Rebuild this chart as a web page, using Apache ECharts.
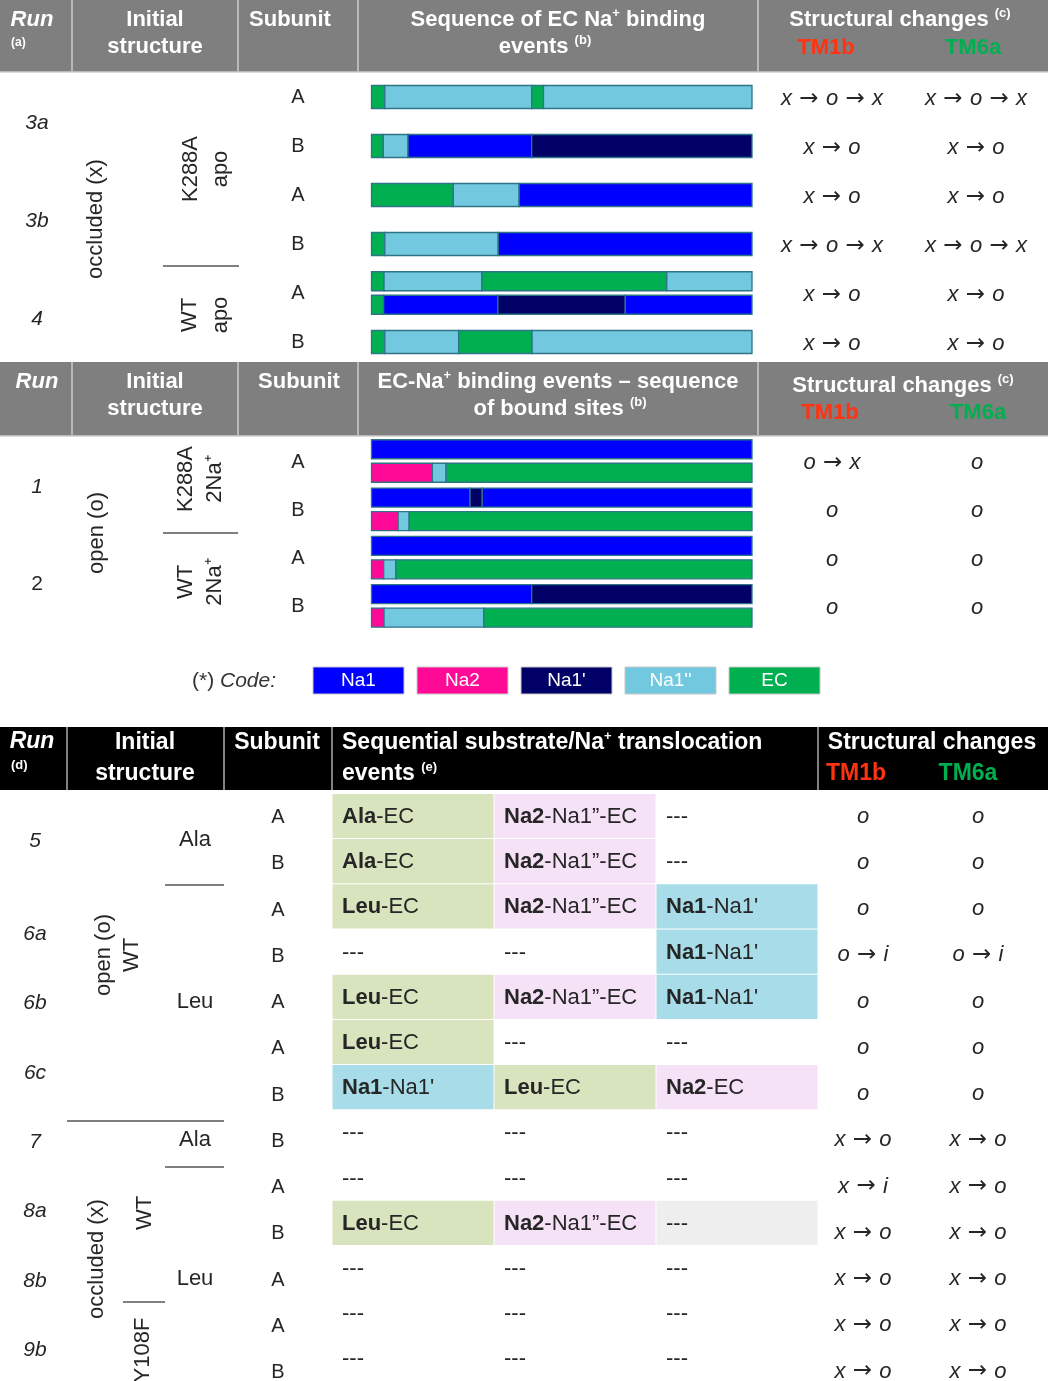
<!DOCTYPE html>
<html>
<head>
<meta charset="utf-8">
<title>Na+ binding and translocation events</title>
<script src="https://cdn.jsdelivr.net/npm/echarts@6.0.0/dist/echarts.min.js"></script>
<style>
html,body{margin:0;padding:0;background:#ffffff;}
#chart{width:1050px;height:1381px;}
</style>
</head>
<body>
<div id="chart"></div>
<script>
// ================= DATA =================
const siteCodes = ['Na1', 'Na2', "Na1'", "Na1''", 'EC'];
const legendLabels = ['Na1', 'Na2', "Na1'", "Na1''", 'EC'];

// ---- Part 1: sequence of EC Na+ binding events (apo runs)
const ecRuns = ['3a', '3b', '4'];
const ecRunRows = [[0, 1], [2, 3], [4, 5]];
const ecSubunits = ['A', 'B', 'A', 'B', 'A', 'B'];
const ecTM1b = ['x \u2192 o \u2192 x', 'x \u2192 o', 'x \u2192 o', 'x \u2192 o \u2192 x', 'x \u2192 o', 'x \u2192 o'];
const ecTM6a = ['x \u2192 o \u2192 x', 'x \u2192 o', 'x \u2192 o', 'x \u2192 o \u2192 x', 'x \u2192 o', 'x \u2192 o'];
const ecBarRow = [0, 1, 2, 3, 4, 4, 5];
const ecBarTrack = [0, 0, 0, 0, -1, 1, 0];
const ecBarSites = [
  ['EC', "Na1''", 'EC', "Na1''"],
  ['EC', "Na1''", 'Na1', "Na1'"],
  ['EC', "Na1''", 'Na1'],
  ['EC', "Na1''", 'Na1'],
  ['EC', "Na1''", 'EC', "Na1''"],
  ['EC', 'Na1', "Na1'", 'Na1'],
  ['EC', "Na1''", 'EC', "Na1''"]
];
const ecBarEnds = [
  [3.5, 42.1, 45.2, 100],
  [3.1, 9.6, 42.1, 100],
  [21.5, 38.8, 100],
  [3.5, 33.3, 100],
  [3.3, 29.0, 77.6, 100],
  [3.2, 33.2, 66.7, 100],
  [3.5, 22.9, 42.2, 100]
];

// ---- Part 2: EC-Na+ binding events, sequence of bound sites (2Na+ runs)
const bsRuns = ['1', '2'];
const bsRunRows = [[0, 1], [2, 3]];
const bsSubunits = ['A', 'B', 'A', 'B'];
const bsTM1b = ['o \u2192 x', 'o', 'o', 'o'];
const bsTM6a = ['o', 'o', 'o', 'o'];
const bsBarRow = [0, 0, 1, 1, 2, 2, 3, 3];
const bsBarTrack = [-1, 1, -1, 1, -1, 1, -1, 1];
const bsBarSites = [
  ['Na1'],
  ['Na2', "Na1''", 'EC'],
  ['Na1', "Na1'", 'Na1'],
  ['Na2', "Na1''", 'EC'],
  ['Na1'],
  ['Na2', "Na1''", 'EC'],
  ['Na1', "Na1'"],
  ['Na2', "Na1''", 'EC']
];
const bsBarEnds = [
  [100],
  [16.0, 19.6, 100],
  [25.9, 29.1, 100],
  [7.0, 9.9, 100],
  [100],
  [3.2, 6.4, 100],
  [42.1, 100],
  [3.3, 29.5, 100]
];

// ---- Part 3: sequential substrate/Na+ translocation events
const trRuns = ['5', '6a', '6b', '6c', '7', '8a', '8b', '9b'];
const trRunRows = [[0, 1], [2, 3], [4], [5, 6], [7], [8, 9], [10], [11, 12]];
const trSubunits = ['A', 'B', 'A', 'B', 'A', 'A', 'B', 'B', 'A', 'B', 'A', 'A', 'B'];
const trEvent1 = ['Ala-EC', 'Ala-EC', 'Leu-EC', '---', 'Leu-EC', 'Leu-EC', "Na1-Na1'", '---', '---', 'Leu-EC', '---', '---', '---'];
const trEvent2 = ['Na2-Na1\u201D-EC', 'Na2-Na1\u201D-EC', 'Na2-Na1\u201D-EC', '---', 'Na2-Na1\u201D-EC', '---', 'Leu-EC', '---', '---', 'Na2-Na1\u201D-EC', '---', '---', '---'];
const trEvent3 = ['---', '---', "Na1-Na1'", "Na1-Na1'", "Na1-Na1'", '---', 'Na2-EC', '---', '---', '---', '---', '---', '---'];
const trEvents = [trEvent1, trEvent2, trEvent3];
const trTM1b = ['o', 'o', 'o', 'o \u2192 i', 'o', 'o', 'o', 'x \u2192 o', 'x \u2192 i', 'x \u2192 o', 'x \u2192 o', 'x \u2192 o', 'x \u2192 o'];
const trTM6a = ['o', 'o', 'o', 'o \u2192 i', 'o', 'o', 'o', 'x \u2192 o', 'x \u2192 o', 'x \u2192 o', 'x \u2192 o', 'x \u2192 o', 'x \u2192 o'];
const trGreyCell = [9, 2]; // [row, column] shaded grey

// ================= STYLE / LAYOUT =================
const FF = '"Liberation Sans", Arial, Helvetica, sans-serif';
const TXT = '#262626';
const siteColors = ['#0000ff', '#ff0a96', '#000066', '#72c8df', '#00b050'];
const barStroke = '#2d7487';
const RED = '#ff3311', GREEN = '#00b050';

const R1 = { y0: 97, step: 49, n: 6 };
const R2 = { y0: 461, step: 48.3, n: 4 };
const R3 = { y0: 816.5, step: 46.25, n: 13 };
const rowY = (R, r) => R.y0 + r * R.step;

// ================= BUILD SERIES DATA =================
function buildBars(rows, tracks, sites, ends) {
  const out = [];
  rows.forEach((row, i) => {
    let start = 0;
    sites[i].forEach((s, j) => {
      const end = ends[i][j];
      out.push([start, row, end, tracks[i], siteCodes.indexOf(s)]);
      start = end;
    });
  });
  return out;
}
const ecData = buildBars(ecBarRow, ecBarTrack, ecBarSites, ecBarEnds);
const bsData = buildBars(bsBarRow, bsBarTrack, bsBarSites, bsBarEnds);
const trData = [];
for (let r = 0; r < trSubunits.length; r++) for (let c = 0; c < 3; c++) trData.push([c, r]);

function makeBarRender(singleH, trackH, trackOff) {
  return function (params, api) {
    const s = api.value(0), row = api.value(1), e = api.value(2), track = api.value(3), code = api.value(4);
    const p0 = api.coord([s, row]);
    const p1 = api.coord([e, row]);
    const h = track === 0 ? singleH : trackH;
    const cy = p0[1] + track * trackOff;
    return {
      type: 'rect',
      shape: { x: p0[0], y: cy - h / 2, width: p1[0] - p0[0], height: h },
      style: { fill: siteColors[code], stroke: barStroke, lineWidth: 1.3 }
    };
  };
}

function cellFill(label, c, r) {
  if (r === trGreyCell[0] && c === trGreyCell[1]) return '#eeeeee';
  if (label.indexOf('Ala') === 0 || label.indexOf('Leu') === 0) return '#d8e4bd';
  if (label.indexOf('Na2') === 0) return '#f6e2f6';
  if (label.indexOf('Na1') === 0) return '#a7dce8';
  return null;
}
const cellRich = {
  b: { fontFamily: FF, fontWeight: 'bold', fontSize: 22, fill: TXT },
  n: { fontFamily: FF, fontWeight: 'normal', fontSize: 22, fill: TXT }
};
function cellRender(params, api) {
  const c = api.value(0), r = api.value(1);
  const label = trEvents[c][r];
  const ctr = api.coord([c, r]);
  const sz = api.size([1, 1]);
  const x0 = ctr[0] - sz[0] / 2, y0 = ctr[1] - sz[1] / 2;
  const children = [];
  const fill = cellFill(label, c, r);
  if (fill) children.push({ type: 'rect', shape: { x: x0 + 0.5, y: y0 + 0.5, width: sz[0] - 1, height: sz[1] - 1 }, style: { fill: fill } });
  let text;
  if (label === '---') text = '{n|---}';
  else {
    const k = label.indexOf('-');
    text = '{b|' + label.slice(0, k) + '}{n|' + label.slice(k) + '}';
  }
  children.push({
    type: 'text',
    style: { text: text, x: x0 + 10, y: ctr[1] + 1, align: 'left', verticalAlign: 'middle', textAlign: 'left', textVerticalAlign: 'middle', rich: cellRich }
  });
  return { type: 'group', children: children };
}

// ================= GRAPHIC (table frame & text) =================
const G = [];
function rect(x, y, w, h, fill, extra) {
  return { type: 'rect', silent: true, z: 1, shape: { x: x, y: y, width: w, height: h }, style: Object.assign({ fill: fill }, extra || {}) };
}
function hline(x1, x2, y, color, w) {
  return { type: 'line', silent: true, z: 2, shape: { x1: x1, y1: y, x2: x2, y2: y }, style: { stroke: color || '#7f7f7f', lineWidth: w || 2 } };
}
function txt(x, y, text, o) {
  o = o || {};
  const st = {
    text: text,
    fill: o.color || TXT,
    font: (o.italic ? 'italic ' : '') + (o.bold ? 'bold ' : '') + (o.size || 21) + 'px ' + FF,
    align: o.align || 'center', verticalAlign: o.valign || 'middle',
    textAlign: o.align || 'center', textVerticalAlign: o.valign || 'middle'
  };
  if (o.lh) st.lineHeight = o.lh;
  if (o.rich) st.rich = o.rich;
  return { type: 'text', silent: true, z: 10, x: x, y: y, rotation: o.rot || 0, style: st };
}
function supRich(size, color) {
  return {
    m: { fontFamily: FF, fontWeight: 'bold', fontSize: size, fill: color, lineHeight: size + 4 },
    s: { fontFamily: FF, fontWeight: 'bold', fontSize: Math.round(size * 0.58), fill: color, verticalAlign: 'top', lineHeight: size + 4 }
  };
}
// structural-change text: italic letters with long upright arrows
const stRich = {
  l: { fontFamily: FF, fontStyle: 'italic', fontSize: 22, fill: TXT, lineHeight: 26, verticalAlign: 'middle' },
  a: { fontFamily: '"DejaVu Sans", sans-serif', fontSize: 23, fill: TXT, lineHeight: 26, verticalAlign: 'middle' }
};
function stText(x, y, s) {
  const parts = s.split(' \u2192 ');
  const t = parts.map(p => '{l|' + p + '}').join('{a| \u2192 }');
  return txt(x, y, t, { rich: stRich });
}
const W = { bold: true, color: '#ffffff', size: 22 };
const HR = supRich(22, '#ffffff');
const HR3 = supRich(23, '#ffffff');

// ---- Header 1
G.push(rect(0, 0, 1048, 72, '#7f7f7f'));
[72, 238, 358, 758].forEach(x => G.push(rect(x - 1, 0, 2, 72, '#b8b8b8')));
G.push(rect(0, 71, 1048, 1.5, '#b8b8b8'));
G.push(txt(32, 20, 'Run', Object.assign({}, W, { italic: true })));
G.push(txt(11, 43, '(a)', { bold: true, color: '#ffffff', size: 12, align: 'left' }));
G.push(txt(155, 20, 'Initial', W));
G.push(txt(155, 47, 'structure', W));
G.push(txt(290, 20, 'Subunit', W));
G.push(txt(558, 20, '{m|Sequence of EC Na}{s|+}{m| binding}', { rich: HR }));
G.push(txt(545, 47, '{m|events }{s|(b)}', { rich: HR }));
G.push(txt(900, 20, '{m|Structural changes }{s|(c)}', { rich: HR }));
G.push(txt(826, 48, 'TM1b', { bold: true, color: RED, size: 22 }));
G.push(txt(973, 48, 'TM6a', { bold: true, color: GREEN, size: 22 }));

// ---- Body 1 labels
ecRuns.forEach((run, i) => {
  const rr = ecRunRows[i];
  const y = (rowY(R1, rr[0]) + rowY(R1, rr[rr.length - 1])) / 2;
  G.push(txt(37, y + 2, run, { italic: true, size: 21 }));
});
ecSubunits.forEach((s, r) => G.push(txt(298, rowY(R1, r), s, { size: 20 })));
ecTM1b.forEach((s, r) => G.push(stText(832, rowY(R1, r) + 2, s)));
ecTM6a.forEach((s, r) => G.push(stText(976, rowY(R1, r) + 2, s)));
G.push(txt(96, 219, 'occluded (x)', { size: 22, rot: Math.PI / 2 }));
G.push(txt(206, 169, 'K288A\napo', { size: 22, rot: Math.PI / 2, lh: 30 }));
G.push(hline(163, 239, 266));
G.push(txt(205, 315, 'WT\napo', { size: 22, rot: Math.PI / 2, lh: 31 }));

// ---- Header 2
G.push(rect(0, 362, 1048, 74, '#7f7f7f'));
[72, 238, 358, 758].forEach(x => G.push(rect(x - 1, 362, 2, 74, '#b8b8b8')));
G.push(rect(0, 435, 1048, 1.5, '#b8b8b8'));
G.push(txt(37, 382, 'Run', Object.assign({}, W, { italic: true })));
G.push(txt(155, 382, 'Initial', W));
G.push(txt(155, 409, 'structure', W));
G.push(txt(299, 382, 'Subunit', W));
G.push(txt(558, 382, '{m|EC-Na}{s|+}{m| binding events \u2013 sequence}', { rich: HR }));
G.push(txt(560, 409, '{m|of bound sites }{s|(b)}', { rich: HR }));
G.push(txt(903, 386, '{m|Structural changes }{s|(c)}', { rich: HR }));
G.push(txt(830, 413, 'TM1b', { bold: true, color: RED, size: 22 }));
G.push(txt(978, 413, 'TM6a', { bold: true, color: GREEN, size: 22 }));

// ---- Body 2 labels
bsRuns.forEach((run, i) => {
  const rr = bsRunRows[i];
  const y = (rowY(R2, rr[0]) + rowY(R2, rr[rr.length - 1])) / 2;
  G.push(txt(37, y + 2, run, { italic: i === 0, size: 21 }));
});
bsSubunits.forEach((s, r) => G.push(txt(298, rowY(R2, r) + 1, s, { size: 20 })));
bsTM1b.forEach((s, r) => G.push(stText(832, rowY(R2, r) + 2, s)));
bsTM6a.forEach((s, r) => G.push(stText(977, rowY(R2, r) + 2, s)));
G.push(txt(97, 533, 'open (o)', { size: 22, rot: Math.PI / 2 }));
G.push(txt(200, 479, 'K288A\n2Na\u207A', { size: 22, rot: Math.PI / 2, lh: 29 }));
G.push(hline(163, 238, 533));
G.push(txt(200, 582, 'WT\n2Na\u207A', { size: 22, rot: Math.PI / 2, lh: 29 }));

// ---- Legend
G.push(txt(192, 681, '{p|(*) }{i|Code:}', {
  align: 'left', rich: {
    p: { fontFamily: FF, fontSize: 21, fill: '#333333' },
    i: { fontFamily: FF, fontSize: 21, fontStyle: 'italic', fill: '#333333' }
  }
}));
legendLabels.forEach((lab, i) => {
  const x = 313 + i * 104;
  G.push(rect(x, 667, 91, 27, siteColors[i], { stroke: '#c8c8c8', lineWidth: 1 }));
  G.push(txt(x + 45.5, 681, lab, { color: '#ffffff', size: 19 }));
});

// ---- Header 3
G.push(rect(0, 727, 1048, 63, '#000000'));
[67, 224, 332, 818].forEach(x => G.push(rect(x - 1, 727, 2, 63, '#808080')));
G.push(txt(32, 742, 'Run', Object.assign({}, W, { italic: true, size: 23 })));
G.push(txt(11, 765, '(d)', { bold: true, color: '#ffffff', size: 13, align: 'left' }));
G.push(txt(145, 743, 'Initial', Object.assign({}, W, { size: 23 })));
G.push(txt(145, 774, 'structure', Object.assign({}, W, { size: 23 })));
G.push(txt(277, 743, 'Subunit', Object.assign({}, W, { size: 23 })));
G.push(txt(342, 743, '{m|Sequential substrate/Na}{s|+}{m| translocation}', { rich: HR3, align: 'left' }));
G.push(txt(342, 774, '{m|events }{s|(e)}', { rich: HR3, align: 'left' }));
G.push(txt(932, 743, 'Structural changes', Object.assign({}, W, { size: 23 })));
G.push(txt(856, 774, 'TM1b', { bold: true, color: RED, size: 23 }));
G.push(txt(968, 774, 'TM6a', { bold: true, color: GREEN, size: 23 }));

// ---- Body 3 labels
trRuns.forEach((run, i) => {
  const rr = trRunRows[i];
  const y = (rowY(R3, rr[0]) + rowY(R3, rr[rr.length - 1])) / 2;
  G.push(txt(35, y + 2, run, { italic: true, size: 21 }));
});
trSubunits.forEach((s, r) => G.push(txt(278, rowY(R3, r) + 1, s, { size: 20 })));
trTM1b.forEach((s, r) => G.push(stText(863, rowY(R3, r), s)));
trTM6a.forEach((s, r) => G.push(stText(978, rowY(R3, r), s)));
G.push(txt(195, (rowY(R3, 0) + rowY(R3, 1)) / 2, 'Ala', { size: 22 }));
G.push(hline(165, 224, 885));
G.push(txt(118, 955, 'open (o)\nWT', { size: 22, rot: Math.PI / 2, lh: 28 }));
G.push(txt(195, rowY(R3, 4), 'Leu', { size: 22 }));
G.push(hline(67, 224, 1121));
G.push(txt(195, rowY(R3, 7), 'Ala', { size: 22 }));
G.push(hline(165, 224, 1167));
G.push(txt(97, 1259, 'occluded (x)', { size: 22, rot: Math.PI / 2 }));
G.push(txt(145, 1213, 'WT', { size: 22, rot: Math.PI / 2 }));
G.push(hline(123, 165, 1302));
G.push(txt(143, 1350, 'Y108F', { size: 22, rot: Math.PI / 2 }));
G.push(txt(195, rowY(R3, 10), 'Leu', { size: 22 }));

// ================= CHART =================
const chart = echarts.init(document.getElementById('chart'), null, { renderer: 'canvas' });
chart.setOption({
  animation: false,
  backgroundColor: '#ffffff',
  grid: [
    { left: 371.5, top: R1.y0 - R1.step / 2, width: 380.5, height: R1.step * R1.n },
    { left: 371.5, top: R2.y0 - R2.step / 2, width: 380.5, height: R2.step * R2.n },
    { left: 332, top: R3.y0 - R3.step / 2, width: 486, height: R3.step * R3.n }
  ],
  xAxis: [
    { gridIndex: 0, type: 'value', min: 0, max: 100, show: false },
    { gridIndex: 1, type: 'value', min: 0, max: 100, show: false },
    { gridIndex: 2, type: 'category', data: ['event 1', 'event 2', 'event 3'], show: false }
  ],
  yAxis: [
    { gridIndex: 0, type: 'value', min: -0.5, max: R1.n - 0.5, inverse: true, show: false },
    { gridIndex: 1, type: 'value', min: -0.5, max: R2.n - 0.5, inverse: true, show: false },
    { gridIndex: 2, type: 'category', data: trSubunits.map((s, i) => 'row' + i), inverse: true, show: false }
  ],
  series: [
    { type: 'custom', name: 'EC binding', xAxisIndex: 0, yAxisIndex: 0, encode: { x: [0, 2], y: 1 }, renderItem: makeBarRender(23, 19, 11.75), data: ecData, silent: true, z: 5 },
    { type: 'custom', name: 'bound sites', xAxisIndex: 1, yAxisIndex: 1, encode: { x: [0, 2], y: 1 }, renderItem: makeBarRender(23, 19, 11.75), data: bsData, silent: true, z: 5 },
    { type: 'custom', name: 'translocation', xAxisIndex: 2, yAxisIndex: 2, encode: { x: 0, y: 1 }, renderItem: cellRender, data: trData, silent: true, z: 5 }
  ],
  graphic: { elements: G }
});
</script>
</body>
</html>
